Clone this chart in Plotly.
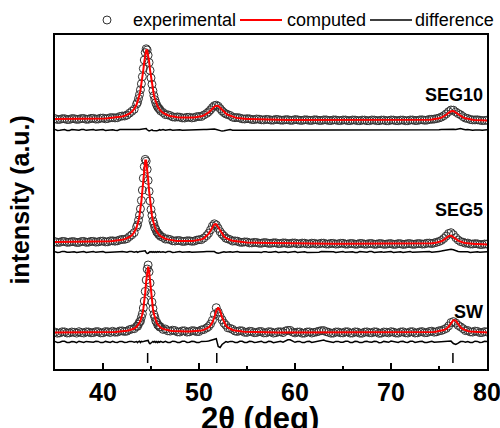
import plotly.graph_objects as go

# ---------------- data ----------------
two_theta = [35, 35.25, 35.5, 35.75, 36, 36.25, 36.5, 36.75, 37, 37.25, 37.5, 37.75, 38, 38.25, 38.5, 38.75,
             39, 39.25, 39.5, 39.75, 40, 40.25, 40.5, 40.75, 41, 41.25, 41.5, 41.75, 42, 42.25, 42.5, 42.75,
             43, 43.25,
             43.5, 43.6, 43.7, 43.8, 43.9, 44.0, 44.1, 44.2, 44.3, 44.4, 44.5, 44.6, 44.7, 44.8, 44.9,
             45.0, 45.1, 45.2, 45.3, 45.4, 45.5, 45.6, 45.7, 45.8, 45.9, 46.0,
             46.25, 46.5, 46.75, 47, 47.25, 47.5, 47.75, 48, 48.25, 48.5, 48.75, 49, 49.25, 49.5, 49.75,
             50, 50.25, 50.5,
             50.8, 51.0, 51.2, 51.4, 51.6, 51.8, 52.0, 52.2, 52.4, 52.6, 52.8, 53.0,
             53.25, 53.5, 53.75, 54, 54.25, 54.5, 54.75, 55, 55.25, 55.5, 55.75, 56, 56.25, 56.5, 56.75,
             57, 57.25, 57.5, 57.75, 58,
             58.25, 58.5, 58.75, 59, 59.25, 59.5, 59.75, 60, 60.25, 60.5, 60.75, 61, 61.25, 61.5, 61.75,
             62, 62.25, 62.5, 62.75, 63,
             63.25, 63.5, 63.75, 64, 64.25, 64.5, 64.75, 65, 65.25, 65.5, 65.75, 66, 66.25, 66.5, 66.75,
             67, 67.25, 67.5, 67.75, 68,
             68.25, 68.5, 68.75, 69, 69.25, 69.5, 69.75, 70, 70.25, 70.5, 70.75, 71, 71.25, 71.5, 71.75,
             72, 72.25, 72.5, 72.75, 73,
             73.25, 73.5, 73.75, 74, 74.25, 74.5, 74.75, 75,
             75.25, 75.5, 75.75, 76, 76.25, 76.5, 76.75, 77, 77.25, 77.5, 77.75, 78,
             78.25, 78.5, 78.75, 79, 79.25, 79.5, 79.75, 80]

sw_calc = [0.4, 0.4, 0.4, 0.4, 0.4, 0.4, 0.5, 0.5, 0.5, 0.5, 0.5, 0.5, 0.5, 0.5, 0.6, 0.6,
           0.6, 0.6, 0.7, 0.7, 0.8, 0.8, 0.9, 0.9, 1.0, 1.1, 1.3, 1.4, 1.6, 1.9, 2.2, 2.7,
           3.4, 4.5,
           6.2, 7.3, 8.5, 10.2, 12.3, 15.1, 18.9, 24.1, 31.3, 40.6, 51.8, 62.0, 66.4, 62.0, 51.8,
           40.6, 31.3, 24.1, 18.9, 15.1, 12.3, 10.2, 8.6, 7.3, 6.3, 5.5,
           4.1, 3.3, 2.7, 2.3, 2.0, 1.8, 1.6, 1.5, 1.4, 1.4, 1.4, 1.5, 1.6, 1.7, 1.9,
           2.1, 2.5, 3.1,
           4.3, 5.5, 7.5, 10.7, 15.7, 22.1, 25.5, 22.1, 15.7, 10.7, 7.5, 5.5,
           4.0, 3.0, 2.4, 1.9, 1.6, 1.4, 1.2, 1.1, 1.0, 0.9, 0.85, 0.8, 0.75, 0.7, 0.65,
           0.6, 0.6, 0.6, 0.55, 0.5,
           0.5, 0.5, 0.5, 0.5, 0.4, 0.4, 0.4, 0.4, 0.4, 0.4, 0.4, 0.4, 0.4, 0.4, 0.4,
           0.4, 0.4, 0.4, 0.4, 0.4,
           0.4, 0.4, 0.4, 0.4, 0.4, 0.4, 0.4, 0.4, 0.4, 0.4, 0.4, 0.4, 0.4, 0.4, 0.4,
           0.4, 0.4, 0.4, 0.4, 0.4,
           0.4, 0.4, 0.4, 0.4, 0.4, 0.4, 0.4, 0.4, 0.4, 0.4, 0.4, 0.4, 0.4, 0.5, 0.5,
           0.5, 0.5, 0.5, 0.55, 0.6,
           0.65, 0.7, 0.8, 0.9, 1.0, 1.1, 1.4, 1.7,
           2.2, 2.9, 4.1, 6.2, 9.6, 12.9, 12.4, 8.8, 5.7, 3.8, 2.7, 2.0,
           1.6, 1.3, 1.1, 1.0, 0.9, 0.8, 0.7, 0.6]
sw_obs = [0.9, -0.2, 0.1, 1.2, 1.1, 0.0, 0.1, 1.0, 0.7, -0.1, 1.3, 0.4, 0.0, 1.1, 1.0, 0.2,
          0.4, 1.3, 1.3, 0.1, 0.2, 1.4, 1.2, 0.5, 1.7, 0.8, 0.9, 2.0, 2.1, 1.5, 1.9, 3.3,
          4.0, 4.3,
          6.7, 6.7, 8.9, 11.0, 11.8, 15.7, 19.2, 25.0, 32.0, 41.6, 53.0, 64.0, 68.0, 61.2, 50.0,
          39.6, 30.9, 24.6, 18.6, 15.7, 11.9, 10.7, 8.0, 7.7, 6.0, 6.1,
          3.6, 4.0, 2.2, 1.9, 2.8, 2.4, 1.1, 1.0, 2.1, 2.2, 0.9, 1.2, 2.3, 2.2, 1.4,
          1.5, 3.1, 3.5,
          5.1, 6.5, 9.0, 12.7, 18.5, 25.3, 21.0, 16.6, 13.2, 9.9, 7.9, 5.2,
          4.6, 3.6, 2.0, 1.5, 2.3, 2.1, 0.7, 0.6, 1.7, 1.5, 0.3, 0.5, 1.4, 1.5, 0.1,
          0.2, 1.3, 1.1, -0.1, 0.3,
          1.2, 1.2, 0.4, 2.0, 2.6, 2.6, 0.9, 0.1, 0.9, 1.0, -0.2, -0.1, 1.0, 1.1, 0.0,
          0.6, 1.1, 1.8, 2.4, 2.4,
          1.3, 0.7, -0.2, -0.1, 1.0, 1.0, 0.2, 0.1, 1.2, 1.2, -0.1, 0.0, 1.1, 0.9, -0.2,
          -0.2, 0.9, 1.1, 0.3, 0.2,
          1.2, 1.0, -0.3, -0.1, 1.0, 0.8, 0.1, 1.3, 0.9, 0.0, -0.1, 1.0, 1.2, 0.2, 0.0,
          1.2, 1.3, 0.0, 0.2, 1.1,
          1.4, 0.3, 0.4, 1.5, 1.8, 0.8, 1.2, 2.2,
          2.5, 3.5, 4.6, 7.0, 10.5, 11.4, 9.9, 7.6, 6.1, 4.4, 2.4, 2.5,
          1.1, 0.9, 1.9, 1.6, 0.4, 0.5, 1.4, 1.0]

seg5_calc = [3.0, 3.0, 3.0, 3.0, 3.0, 3.0, 3.0, 3.0, 3.0, 3.0, 3.0, 3.05, 3.1, 3.1, 3.1, 3.15,
             3.2, 3.25, 3.3, 3.35, 3.4, 3.5, 3.6, 3.75, 3.9, 4.1, 4.4, 4.8, 5.2, 5.9, 6.7, 8.0,
             9.7, 12.7,
             17.7, 20.6, 24.5, 29.3, 35.7, 43.9, 54.1, 65.8, 77.1, 84.4, 84.4, 77.1, 65.8, 54.1, 43.9,
             35.7, 29.3, 24.4, 20.6, 17.6, 15.3, 13.4, 11.9, 10.7, 9.7, 8.9,
             7.3, 6.3, 5.6, 5.0, 4.6, 4.3, 4.1, 4.0, 3.9, 3.8, 3.8, 3.9, 4.0, 4.2, 4.5,
             4.9, 5.6, 6.7,
             8.9, 11.1, 14.2, 18.0, 20.8, 20.8, 17.9, 14.1, 11.0, 8.7, 7.0, 5.9,
             5.0, 4.2, 3.8, 3.4, 3.1, 2.9, 2.75, 2.6, 2.45, 2.3, 2.25, 2.2, 2.15, 2.1, 2.05,
             2.0, 1.95, 1.9, 1.85, 1.8,
             1.8, 1.8, 1.75, 1.7, 1.7, 1.7, 1.65, 1.6, 1.6, 1.6, 1.55, 1.5, 1.5, 1.5, 1.45,
             1.4, 1.4, 1.4, 1.4, 1.4,
             1.35, 1.3, 1.3, 1.3, 1.3, 1.3, 1.3, 1.3, 1.25, 1.2, 1.2, 1.2, 1.2, 1.2, 1.2,
             1.2, 1.15, 1.1, 1.1, 1.1,
             1.1, 1.1, 1.1, 1.1, 1.05, 1.0, 1.0, 1.0, 1.0, 1.0, 1.0, 1.0, 1.0, 1.0, 1.0,
             1.0, 1.05, 1.1, 1.1, 1.1,
             1.2, 1.3, 1.4, 1.5, 1.7, 1.9, 2.3, 2.9,
             3.7, 5.1, 6.9, 8.9, 9.5, 8.1, 6.1, 4.4, 3.2, 2.5, 2.0, 1.6,
             1.4, 1.2, 1.0, 0.9, 0.8, 0.7, 0.65, 0.6]
seg5_obs = [3.4, 2.6, 2.7, 3.6, 3.5, 2.7, 2.8, 3.4, 3.3, 2.5, 2.6, 3.5, 3.6, 2.7, 2.8, 3.6,
            3.6, 2.9, 3.1, 3.8, 3.9, 3.1, 3.2, 4.1, 4.2, 3.8, 4.2, 5.1, 5.6, 5.6, 6.4, 8.4,
            10.2, 12.4,
            18.1, 20.2, 24.8, 29.8, 36.1, 44.5, 54.9, 66.8, 78.4, 85.6, 83.8, 75.6, 64.6, 53.6, 44.2,
            35.5, 29.7, 24.1, 21.0, 17.3, 15.6, 13.0, 12.2, 10.5, 10.1, 8.6,
            7.6, 5.9, 6.0, 5.4, 4.2, 4.0, 4.5, 4.4, 3.6, 3.6, 4.2, 4.2, 3.7, 3.9, 4.8,
            5.3, 5.4, 7.0,
            9.4, 11.7, 15.1, 19.0, 21.2, 20.0, 16.7, 13.3, 10.8, 9.0, 6.8, 6.2,
            5.3, 3.9, 4.1, 3.8, 2.8, 2.6, 3.1, 3.0, 2.1, 2.1, 2.6, 2.5, 1.8, 1.7, 2.4,
            2.3, 1.6, 1.7, 2.2, 2.2,
            1.4, 1.5, 2.1, 2.0, 1.3, 1.5, 2.0, 2.0, 1.2, 1.3, 1.9, 1.8, 1.1, 1.1, 1.8,
            1.7, 1.0, 1.2, 1.8, 1.8,
            1.0, 1.0, 1.6, 1.6, 0.9, 1.1, 1.7, 1.7, 0.9, 0.9, 1.5, 1.5, 0.8, 0.8, 1.6,
            1.5, 0.8, 0.9, 1.5, 1.5,
            0.7, 0.8, 1.4, 1.4, 0.7, 0.8, 1.3, 1.4, 0.6, 0.7, 1.4, 1.3, 0.6, 0.8, 1.4,
            1.4, 0.7, 0.8, 1.4, 1.4,
            0.9, 1.1, 1.8, 1.9, 1.4, 2.1, 2.7, 3.5,
            4.6, 6.5, 8.9, 11.5, 12.3, 10.3, 7.3, 5.0, 3.4, 2.8, 1.8, 1.9,
            1.0, 1.0, 1.3, 1.2, 0.5, 0.5, 1.0, 0.9]

seg10_calc = [1.9, 1.9, 1.9, 1.9, 1.9, 1.9, 1.9, 2.0, 2.0, 2.0, 2.0, 2.0, 2.0, 2.05, 2.1, 2.15,
              2.2, 2.25, 2.3, 2.4, 2.5, 2.6, 2.7, 2.9, 3.1, 3.4, 3.7, 4.1, 4.6, 5.3, 6.1, 7.4,
              9.3, 12.0,
              16.5, 19.0, 22.1, 25.9, 30.6, 36.4, 43.3, 51.2, 59.4, 66.6, 70.8, 70.8, 66.6, 59.5, 51.2,
              43.4, 36.5, 30.7, 26.0, 22.2, 19.1, 16.6, 14.5, 12.9, 11.5, 10.3,
              8.1, 6.7, 5.8, 5.0, 4.4, 4.0, 3.7, 3.5, 3.4, 3.3, 3.3, 3.3, 3.4, 3.6, 3.9,
              4.2, 4.8, 5.6,
              7.1, 8.5, 10.3, 12.4, 14.3, 15.3, 15.0, 13.3, 11.2, 9.2, 7.5, 6.2,
              5.1, 4.1, 3.6, 3.1, 2.7, 2.4, 2.2, 2.0, 1.9, 1.8, 1.7, 1.6, 1.5, 1.4, 1.35,
              1.3, 1.25, 1.2, 1.2, 1.2,
              1.15, 1.1, 1.05, 1.0, 1.0, 1.0, 1.0, 1.0, 0.95, 0.9, 0.9, 0.9, 0.9, 0.9, 0.85,
              0.8, 0.8, 0.8, 0.8, 0.8,
              0.8, 0.8, 0.75, 0.7, 0.7, 0.7, 0.7, 0.7, 0.7, 0.7, 0.65, 0.6, 0.6, 0.6, 0.6,
              0.6, 0.6, 0.6, 0.6, 0.6,
              0.6, 0.6, 0.6, 0.6, 0.6, 0.6, 0.6, 0.6, 0.6, 0.6, 0.6, 0.6, 0.6, 0.6, 0.6,
              0.6, 0.65, 0.7, 0.75, 0.8,
              0.9, 1.0, 1.1, 1.2, 1.4, 1.7, 2.1, 2.7,
              3.4, 4.6, 6.2, 8.2, 9.8, 10.0, 8.5, 6.5, 4.8, 3.6, 2.7, 2.1,
              1.7, 1.3, 1.1, 0.9, 0.75, 0.6, 0.55, 0.5]
seg10_obs = [2.4, 1.5, 1.6, 2.3, 2.3, 1.5, 1.5, 2.4, 2.3, 1.6, 1.8, 2.5, 2.5, 1.7, 1.8, 2.6,
             2.6, 1.9, 2.0, 2.8, 2.9, 2.2, 2.5, 3.3, 3.4, 3.1, 3.3, 4.5, 5.0, 5.0, 5.9, 7.8,
             9.7, 11.7,
             16.9, 18.7, 22.5, 26.4, 31.2, 37.2, 44.3, 52.5, 61.0, 68.4, 72.2, 71.0, 65.8, 58.5, 50.6,
             43.1, 36.7, 30.3, 25.4, 21.3, 18.1, 15.8, 13.9, 12.7, 11.8, 10.1,
             8.5, 6.4, 6.2, 5.4, 4.1, 3.8, 4.1, 3.8, 3.1, 3.0, 3.7, 3.7, 3.1, 3.4, 4.3,
             4.5, 4.5, 6.0,
             7.6, 9.2, 11.2, 13.5, 15.3, 15.8, 14.7, 12.4, 10.1, 8.4, 7.1, 6.4,
             5.5, 3.8, 3.3, 3.5, 3.0, 2.2, 2.0, 2.3, 2.2, 1.5, 1.4, 2.0, 1.8, 1.2, 1.1,
             1.6, 1.5, 0.9, 0.9, 1.6,
             1.4, 0.9, 0.8, 1.3, 1.3, 0.7, 0.7, 1.4, 1.2, 0.7, 0.6, 1.2, 1.1, 0.6, 0.6,
             1.2, 1.1, 0.6, 0.5, 1.1,
             1.1, 0.5, 0.5, 1.1, 1.0, 0.5, 0.4, 1.0, 1.0, 0.4, 0.4, 1.0, 0.9, 0.4, 0.3,
             0.9, 0.9, 0.3, 0.3, 1.0,
             0.9, 0.4, 0.3, 0.9, 0.9, 0.3, 0.3, 1.0, 0.9, 0.4, 0.3, 0.9, 0.9, 0.3, 0.3,
             1.0, 1.0, 0.5, 0.5, 1.1,
             1.2, 0.7, 0.9, 1.6, 1.7, 1.9, 2.4, 3.0,
             3.9, 5.3, 7.1, 9.3, 11.0, 10.8, 9.0, 7.4, 6.2, 4.4, 2.9, 2.5,
             1.5, 1.1, 1.1, 1.2, 0.8, 0.4, 0.5, 0.8]

bragg_positions = [44.65, 51.85, 76.45]
x_tick_values = [40, 50, 60, 70, 80]
x_minor_values = [45, 55, 65, 75]
legend_names = ["experimental", "computed", "difference"]

for arr in (sw_calc, sw_obs, seg5_calc, seg5_obs, seg10_calc, seg10_obs):
    assert len(arr) == len(two_theta), (len(arr), len(two_theta))

# ---------------- figure ----------------
FONT = "Liberation Sans, Arial, Helvetica, sans-serif"
W, H = 500, 428
ML, MR, MT, MB = 55, 13, 35, 59
PW, PH = W - ML - MR, H - MT - MB


def px(xp):   # figure pixel -> paper x
    return (xp - ML) / PW


def py(yp):   # figure pixel -> paper y
    return (H - MB - yp) / PH


MARK_COLOR = "#333333"

# (label, observed, computed, pattern offset, difference offset, label height)
series = [
    ("SW", sw_obs, sw_calc, 36, 27, 57),
    ("SEG5", seg5_obs, seg5_calc, 124, 117, 159),
    ("SEG10", seg10_obs, seg10_calc, 248, 239, 274),
]

fig = go.Figure()
annotations = []
for i, (label, obs, calc, off, doff, ylab) in enumerate(series):
    fig.add_trace(go.Scatter(
        x=two_theta, y=[v + off for v in obs], mode="markers",
        name=legend_names[0] + " " + label, showlegend=False,
        marker=dict(symbol="circle-open", size=8, color=MARK_COLOR,
                    line=dict(width=1, color=MARK_COLOR)),
        hoverinfo="skip"))
    fig.add_trace(go.Scatter(
        x=two_theta, y=[v + off for v in calc], mode="lines",
        name=legend_names[1] + " " + label, showlegend=False,
        line=dict(color="#ff0000", width=2), hoverinfo="skip"))
    fig.add_trace(go.Scatter(
        x=two_theta, y=[o - c + doff for o, c in zip(obs, calc)], mode="lines",
        name=legend_names[2] + " " + label, showlegend=False,
        line=dict(color="#000000", width=1.5), hoverinfo="skip"))
    annotations.append(dict(
        x=80, y=ylab, xref="x", yref="y", xanchor="right", yanchor="middle",
        xshift=-2, text=label, showarrow=False,
        font=dict(family=FONT, size=18, color="black", weight="bold")))

# Bragg reflection markers
bx, by = [], []
for p in bragg_positions:
    bx += [p, p, None]
    by += [6, 16, None]
fig.add_trace(go.Scatter(x=bx, y=by, mode="lines", showlegend=False,
                         line=dict(color="black", width=1.5), hoverinfo="skip"))

# ---- legend row (drawn above the frame) ----
LEG_Y = 20
shapes = [
    dict(type="circle", xref="paper", yref="paper",
         x0=px(103), x1=px(111), y0=py(LEG_Y + 4), y1=py(LEG_Y - 4),
         line=dict(color=MARK_COLOR, width=1), fillcolor="rgba(0,0,0,0)"),
    dict(type="line", xref="paper", yref="paper",
         x0=px(240), x1=px(282), y0=py(LEG_Y), y1=py(LEG_Y),
         line=dict(color="#ff0000", width=2)),
    dict(type="line", xref="paper", yref="paper",
         x0=px(370), x1=px(412), y0=py(LEG_Y), y1=py(LEG_Y),
         line=dict(color="#000000", width=1.5)),
]
for name, xl in zip(legend_names, (131, 285, 413)):
    annotations.append(dict(
        x=px(xl), y=py(LEG_Y), xref="paper", yref="paper", xanchor="left", yanchor="middle",
        text=name, showarrow=False,
        font=dict(family=FONT, size=18, color="black")))

annotations.append(dict(
    x=0.475, y=py(418), xref="paper", yref="paper", xanchor="center", yanchor="middle",
    text="2θ (deg)", showarrow=False,
    font=dict(family=FONT, size=31, color="black", weight="bold")))
annotations.append(dict(
    x=-0.082, y=0.506, xref="paper", yref="paper", xanchor="center", yanchor="middle",
    text="intensity (a.u.)", showarrow=False, textangle=-90,
    font=dict(family=FONT, size=25, color="black", weight="bold")))

fig.update_layout(
    width=W, height=H,
    margin=dict(l=ML, r=MR, t=MT, b=MB, autoexpand=False),
    paper_bgcolor="white", plot_bgcolor="white",
    font=dict(family=FONT, color="black"),
    showlegend=False,
    annotations=annotations,
    shapes=shapes,
)
fig.update_xaxes(
    range=[35, 80], tickmode="array", tickvals=x_tick_values,
    ticks="inside", ticklen=6, tickwidth=1.5, tickcolor="black",
    showline=True, linewidth=1.5, linecolor="black", mirror=True,
    showgrid=False, zeroline=False, ticklabeloverflow="allow", automargin=False,
    tickfont=dict(family=FONT, size=25, color="black", weight="bold"),
    minor=dict(tickmode="array", tickvals=x_minor_values, ticks="inside",
               ticklen=3, tickwidth=1.5, tickcolor="black", showgrid=False),
)
fig.update_yaxes(
    range=[0, 334], showticklabels=False, ticks="", automargin=False,
    showline=True, linewidth=1.5, linecolor="black", mirror=True,
    showgrid=False, zeroline=False,
)

fig.write_html("out.html", include_plotlyjs=True, config={"displayModeBar": False})
